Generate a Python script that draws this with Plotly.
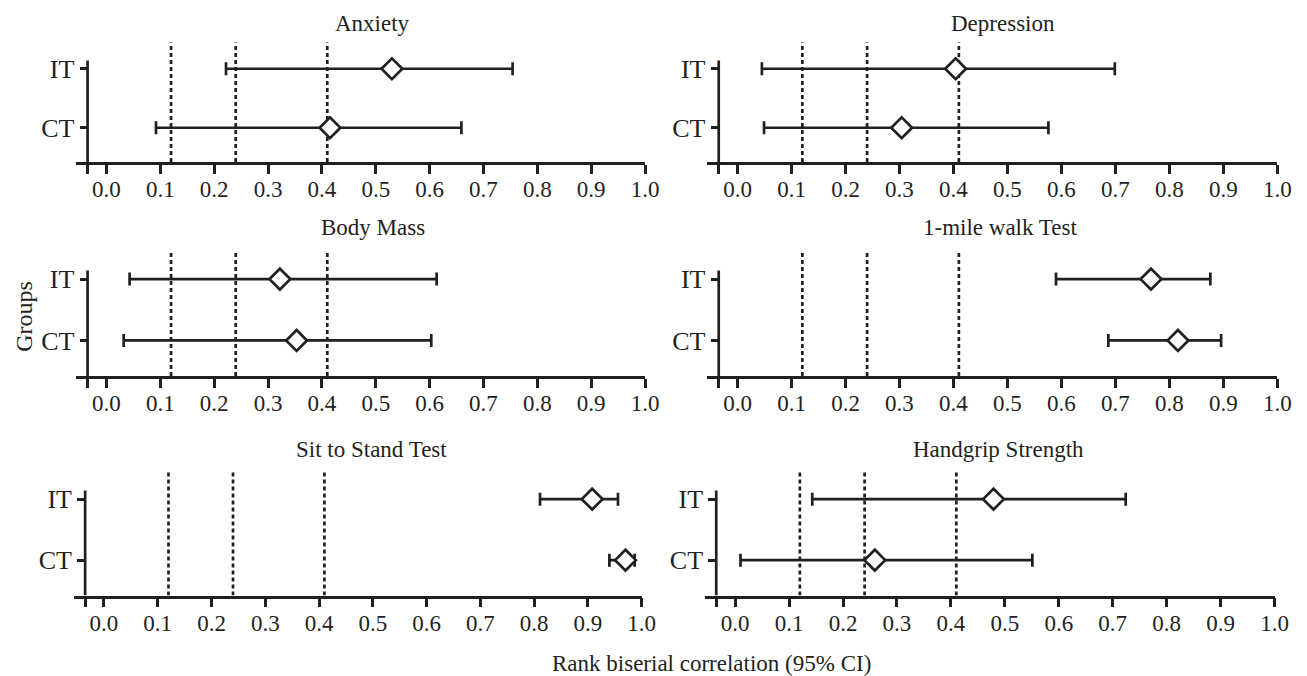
import plotly.graph_objects as go

W, H = 1307, 676

# ---- data ----
panels = ["Anxiety", "Depression", "Body Mass", "1-mile walk Test",
          "Sit to Stand Test", "Handgrip Strength"]
groups = ["IT", "CT"]
group_pos = [2, 1]
est_IT = [0.530, 0.404, 0.322, 0.766, 0.908, 0.479]
lo_IT = [0.222, 0.045, 0.043, 0.590, 0.811, 0.143]
hi_IT = [0.754, 0.699, 0.613, 0.876, 0.956, 0.724]
est_CT = [0.415, 0.304, 0.353, 0.816, 0.970, 0.259]
lo_CT = [0.092, 0.049, 0.032, 0.687, 0.940, 0.010]
hi_CT = [0.659, 0.576, 0.603, 0.896, 0.987, 0.551]
thresholds = [0.12, 0.24, 0.41]
xtick_vals = [0.0, 0.1, 0.2, 0.3, 0.4, 0.5, 0.6, 0.7, 0.8, 0.9, 1.0]
xtick_text = ["0.0", "0.1", "0.2", "0.3", "0.4", "0.5", "0.6", "0.7", "0.8", "0.9", "1.0"]

# ---- layout geometry (pixels) ----
DY = -9
# (pixel of x=0, pixel of x=1, top px, bottom px)
geom = [
    (99.5, 644.0, 43.2 + DY, 163.0 + DY),
    (737.5, 1283.0, 43.2 + DY, 163.0 + DY),
    (99.5, 644.0, 252.5 + DY, 377.0 + DY),
    (737.5, 1283.0, 252.5 + DY, 377.0 + DY),
    (97.0, 640.5, 472.7 + DY, 596.5 + DY),
    (735.0, 1280.3, 472.7 + DY, 596.5 + DY),
]
# title box tops (px)
title_px = [(368, 0.5), (1006, 0.5), (369, 205), (1003, 205), (367, 427), (1001, 427)]
XMIN, XAX = -0.056, -0.035
YMIN, YMAX, YTOP = 0.42, 2.45, 2.14

FONT = "Liberation Serif, DejaVu Serif, serif"
INK = "#231f20"
LW = 2.7

fig = go.Figure()
layout = dict(width=W, height=H, margin=dict(l=0, r=0, t=0, b=0),
              plot_bgcolor="white", paper_bgcolor="white", showlegend=False,
              font=dict(family=FONT, size=23, color=INK))
shapes, annotations = [], []

for i, name in enumerate(panels):
    k = "" if i == 0 else str(i + 1)
    zx, ox, top, bot = geom[i]
    ppu = ox - zx
    left_px = zx + XMIN * ppu
    xdom = [left_px / W, ox / W]
    ydom = [1 - bot / H, 1 - top / H]
    yaxis_px = zx + XAX * ppu

    for g, pos, est, lo, hi in (("IT", 2, est_IT, lo_IT, hi_IT), ("CT", 1, est_CT, lo_CT, hi_CT)):
        fig.add_trace(go.Scatter(
            x=[est[i]], y=[pos], mode="markers",
            xaxis="x" + k, yaxis="y" + k,
            marker=dict(symbol="diamond", size=16, color="white",
                        line=dict(color=INK, width=LW)),
            error_x=dict(type="data", symmetric=False,
                         array=[hi[i] - est[i]], arrayminus=[est[i] - lo[i]],
                         color=INK, thickness=LW, width=6.5),
            cliponaxis=False, hoverinfo="skip"))

    layout["xaxis" + k] = dict(
        domain=xdom, range=[XMIN, 1.0], anchor="y" + k,
        showgrid=False, zeroline=False, showline=True, linecolor=INK, linewidth=LW,
        ticks="outside", ticklen=9, tickwidth=LW, tickcolor=INK,
        tickvals=[XAX] + xtick_vals, ticktext=[""] + xtick_text,
        ticklabelstandoff=-4,
        tickfont=dict(size=23, family=FONT, color=INK), fixedrange=True)
    layout["yaxis" + k] = dict(
        domain=ydom, range=[YMIN, YMAX], anchor="free", position=yaxis_px / W,
        showgrid=False, zeroline=False, showline=False,
        ticks="outside", ticklen=8, tickwidth=LW, tickcolor=INK,
        tickvals=group_pos, ticktext=groups,
        tickfont=dict(size=26, family=FONT, color=INK), fixedrange=True)

    # y-axis line
    shapes.append(dict(type="line", xref="x" + k, yref="y" + k,
                       x0=XAX, x1=XAX, y0=YMIN, y1=YTOP,
                       line=dict(color=INK, width=LW)))
    # threshold lines
    for t in thresholds:
        shapes.append(dict(type="line", xref="x" + k, yref="y" + k, layer="below",
                           x0=t, x1=t, y0=YMIN, y1=YMAX,
                           line=dict(color=INK, width=LW, dash="4px,3px")))
    tx, ty = title_px[i]
    annotations.append(dict(text=name, x=tx / W, y=1 - ty / H, xref="paper", yref="paper",
                            xanchor="center", yanchor="top", showarrow=False,
                            font=dict(size=23, family=FONT, color=INK)))

annotations.append(dict(text="Groups", x=16 / W, y=1 - 308 / H, xref="paper", yref="paper",
                        textangle=-90, xanchor="center", yanchor="middle", showarrow=False,
                        font=dict(size=24, family=FONT, color=INK)))
annotations.append(dict(text="Rank biserial correlation (95% CI)", x=711 / W, y=1 - 655 / H,
                        xref="paper", yref="paper", xanchor="center", yanchor="middle",
                        showarrow=False, font=dict(size=23, family=FONT, color=INK)))

layout["shapes"] = shapes
layout["annotations"] = annotations
fig.update_layout(**layout)
fig.write_html("out.html")
